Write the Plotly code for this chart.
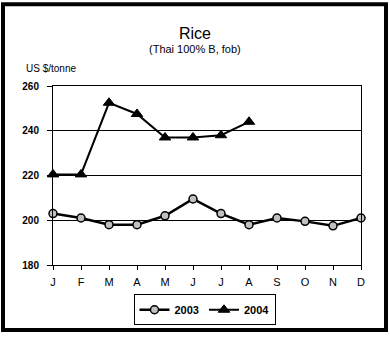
import plotly.graph_objects as go

months = ["J", "F", "M", "A", "M", "J", "J", "A", "S", "O", "N", "D"]
price_2003 = [203, 201, 198, 198, 202, 209.5, 203, 198, 201, 199.5, 197.5, 201]
price_2004 = [220.5, 220.5, 252.5, 247.5, 237, 237, 238, 244]
y_ticks = [180, 200, 220, 240, 260]

FONT = "Liberation Sans, Arial, sans-serif"
x_pos = list(range(len(months)))

fig = go.Figure()
fig.add_trace(go.Scatter(
    x=x_pos, y=price_2003, name="2003", mode="lines+markers",
    line=dict(color="black", width=2.5),
    marker=dict(symbol="circle", size=8, color="#c0c0c0",
                line=dict(color="black", width=1.5)),
    cliponaxis=False,
))
fig.add_trace(go.Scatter(
    x=x_pos[:len(price_2004)], y=price_2004, name="2004", mode="lines+markers",
    line=dict(color="black", width=2),
    marker=dict(symbol="triangle-up", size=10, color="black",
                line=dict(color="black", width=1)),
    cliponaxis=False,
))

L, R, T, B = 53, 29, 86, 69
W, H = 390, 337
pw, ph = W - L - R, H - T - B


def px(xp):
    return (xp - L) / pw


def py(yp):
    return 1 - (yp - T) / ph


fig.update_layout(
    width=W, height=H,
    margin=dict(l=L, r=R, t=T, b=B),
    paper_bgcolor="white", plot_bgcolor="white",
    font=dict(family=FONT, color="black"),
    showlegend=True,
    legend=dict(
        orientation="h", x=px(204.5), y=py(313.5),
        xanchor="center", yanchor="middle",
        bordercolor="black", borderwidth=1,
        font=dict(size=11, family=FONT, weight="bold"),
        itemwidth=30, tracegroupgap=0,
    ),
    xaxis=dict(
        range=[0, 11], tickvals=x_pos, ticktext=months,
        showgrid=False, zeroline=False,
        showline=True, mirror=True, linecolor="black", linewidth=1,
        ticks="outside", ticklen=4, tickcolor="black",
        ticklabelstandoff=3,
        tickfont=dict(size=11, family=FONT),
    ),
    yaxis=dict(
        range=[180, 260], tickvals=y_ticks,
        showgrid=True, gridcolor="black", gridwidth=1, zeroline=False,
        showline=True, mirror=True, linecolor="black", linewidth=1,
        ticks="outside", ticklen=5, tickcolor="black",
        ticklabelstandoff=6,
        tickfont=dict(size=10, family=FONT, weight="bold"),
    ),
    annotations=[
        dict(text="Rice", x=px(195), y=py(33), xref="paper", yref="paper",
             showarrow=False, xanchor="center", yanchor="middle",
             font=dict(size=16, family=FONT)),
        dict(text="(Thai 100% B, fob)", x=px(195), y=py(48), xref="paper", yref="paper",
             showarrow=False, xanchor="center", yanchor="middle",
             font=dict(size=11, family=FONT)),
        dict(text="US $/tonne", x=px(24), y=py(68), xref="paper", yref="paper",
             showarrow=False, xanchor="left", yanchor="middle",
             font=dict(size=10, family=FONT)),
    ],
    shapes=[
        dict(type="rect", xref="paper", yref="paper",
             x0=px(3), x1=px(386), y0=py(334), y1=py(3),
             line=dict(color="black", width=4), fillcolor="rgba(0,0,0,0)"),
    ],
)

fig.write_html("out.html")
